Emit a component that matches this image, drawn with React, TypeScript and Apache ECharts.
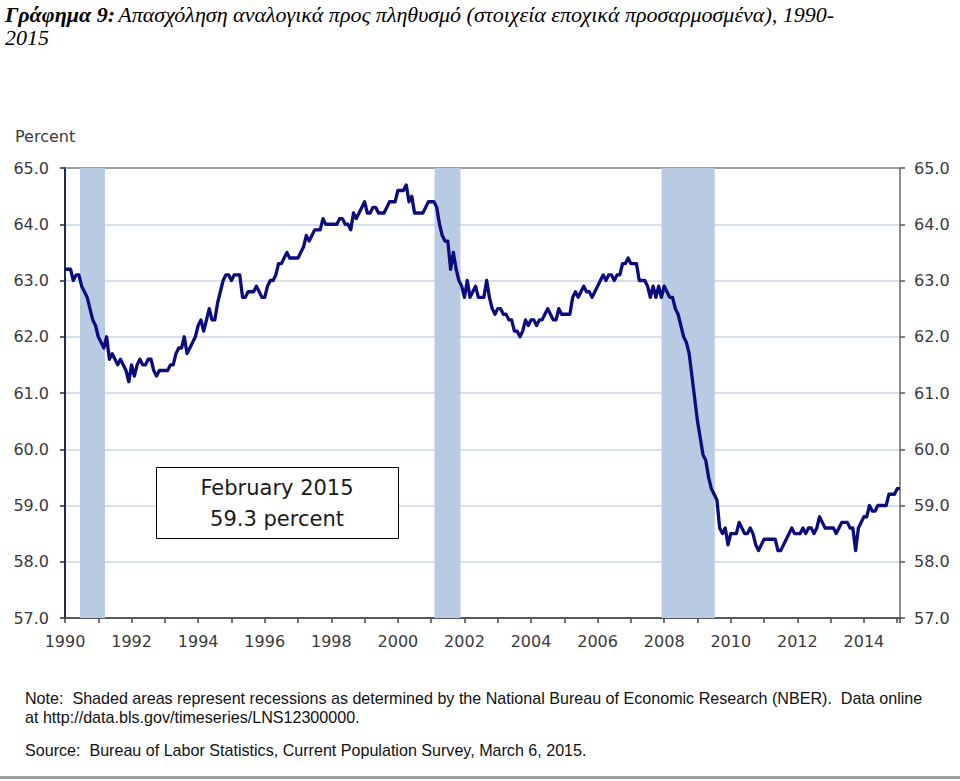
import React, { useEffect, useRef } from "react";
import * as echarts from "echarts";

// Employment-population ratio, seasonally adjusted, monthly (percent)
const epop1990s = [
  63.2, 63.2, 63.2, 63.0, 63.1, 63.1, 62.9, 62.8, 62.7, 62.5, 62.3, 62.2,
  62.0, 61.9, 61.8, 62.0, 61.6, 61.7, 61.6, 61.5, 61.6, 61.5, 61.4, 61.2,
  61.5, 61.3, 61.5, 61.6, 61.5, 61.5, 61.6, 61.6, 61.4, 61.3, 61.4, 61.4,
  61.4, 61.4, 61.5, 61.5, 61.7, 61.8, 61.8, 62.0, 61.7, 61.8, 61.9, 62.0,
  62.2, 62.3, 62.1, 62.3, 62.5, 62.3, 62.3, 62.6, 62.8, 63.0, 63.1, 63.1,
  63.0, 63.1, 63.1, 63.1, 62.7, 62.7, 62.8, 62.8, 62.8, 62.9, 62.8, 62.7,
  62.7, 62.9, 63.0, 63.0, 63.1, 63.3, 63.3, 63.4, 63.5, 63.4, 63.4, 63.4,
  63.4, 63.5, 63.6, 63.8, 63.7, 63.8, 63.9, 63.9, 63.9, 64.1, 64.0, 64.0,
  64.0, 64.0, 64.0, 64.1, 64.1, 64.0, 64.0, 63.9, 64.2, 64.1, 64.2, 64.3,
  64.4, 64.2, 64.2, 64.3, 64.3, 64.2, 64.2, 64.2, 64.3, 64.4, 64.4, 64.4,
];
const epop2000s = [
  64.6, 64.6, 64.6, 64.7, 64.4, 64.5, 64.2, 64.2, 64.2, 64.2, 64.3, 64.4,
  64.4, 64.4, 64.3, 64.0, 63.8, 63.7, 63.7, 63.2, 63.5, 63.2, 63.0, 62.9,
  62.7, 63.0, 62.7, 62.8, 62.9, 62.7, 62.7, 62.7, 63.0, 62.7, 62.5, 62.4,
  62.5, 62.5, 62.4, 62.4, 62.3, 62.3, 62.1, 62.1, 62.0, 62.1, 62.3, 62.2,
  62.3, 62.3, 62.2, 62.3, 62.3, 62.4, 62.5, 62.4, 62.3, 62.3, 62.5, 62.4,
  62.4, 62.4, 62.4, 62.7, 62.8, 62.7, 62.8, 62.9, 62.8, 62.8, 62.7, 62.8,
  62.9, 63.0, 63.1, 63.0, 63.1, 63.1, 63.0, 63.1, 63.1, 63.3, 63.3, 63.4,
  63.3, 63.3, 63.3, 63.0, 63.0, 63.0, 62.9, 62.7, 62.9, 62.7, 62.9, 62.7,
  62.9, 62.8, 62.7, 62.7, 62.5, 62.4, 62.2, 62.0, 61.9, 61.7, 61.3, 60.9,
  60.5, 60.2, 59.9, 59.8, 59.5, 59.3, 59.2, 59.1, 58.6, 58.5, 58.6, 58.3,
];
const epop2010s = [
  58.5, 58.5, 58.5, 58.7, 58.6, 58.5, 58.5, 58.6, 58.5, 58.3, 58.2, 58.3,
  58.4, 58.4, 58.4, 58.4, 58.4, 58.2, 58.2, 58.3, 58.4, 58.5, 58.6, 58.5,
  58.5, 58.5, 58.6, 58.5, 58.6, 58.6, 58.5, 58.6, 58.8, 58.7, 58.6, 58.6,
  58.6, 58.6, 58.5, 58.6, 58.7, 58.7, 58.7, 58.6, 58.6, 58.2, 58.6, 58.7,
  58.8, 58.8, 59.0, 58.9, 58.9, 59.0, 59.0, 59.0, 59.0, 59.2, 59.2, 59.2,
  59.3, 59.3,
];
const startYear = 1990;

// NBER recession shading, as fractional years
const recessionStarts = [1990.45, 2001.1, 2007.92];
const recessionEnds = [1991.2, 2001.88, 2009.52];

const yTicks = { min: 57, max: 65, step: 1 };
const titleBold = "Γράφημα 9:";
const titleRest1 = "Απασχόληση αναλογικά προς πληθυσμό (στοιχεία εποχικά προσαρμοσμένα), 1990-";
const titleRest2 = "2015";
const yAxisName = "Percent";
const calloutLines = ["February 2015", "59.3 percent"];
const noteLine1 =
  "Note:  Shaded areas represent recessions as determined by the National Bureau of Economic Research (NBER).  Data online";
const noteLine2 = "at http://data.bls.gov/timeseries/LNS12300000.";
const sourceLine = "Source:  Bureau of Labor Statistics, Current Population Survey, March 6, 2015.";

export default function App() {
  const ref = useRef<HTMLDivElement>(null);
  useEffect(() => {
    if (!ref.current) return;
    const chart = echarts.init(ref.current, null, { renderer: "svg" });
    const all = [...epop1990s, ...epop2000s, ...epop2010s];
    const data = all.map((v, i) => [startYear + i / 12, v]);
    const xMax = startYear + (all.length - 1) / 12;
    const font = "DejaVu Sans";
    const labelColor = "#3a3a3a";
    const titleStyle = {
      fontFamily: "Liberation Serif",
      fontStyle: "italic",
      fontSize: 22,
      lineHeight: 22,
      fill: "#000",
    };
    chart.setOption({
      animation: false,
      backgroundColor: "#ffffff",
      grid: { left: 65, right: 60, top: 168, bottom: 163 },
      xAxis: [
        {
          type: "value",
          min: startYear,
          max: xMax,
          interval: 1,
          axisLine: { show: true, lineStyle: { color: "#5a5a5a", width: 2 } },
          axisTick: { show: true, inside: false, length: 5, lineStyle: { color: "#444", width: 1.5 } },
          axisLabel: {
            margin: 15,
            fontFamily: font,
            fontSize: 16,
            color: labelColor,
            formatter: (v: number) =>
              Math.abs(v - Math.round(v)) < 1e-6 && Math.round(v) % 2 === 0 ? String(Math.round(v)) : "",
          },
          splitLine: { show: false },
        },
        {
          type: "value",
          position: "top",
          min: startYear,
          max: xMax,
          axisLine: { show: true, lineStyle: { color: "#8a8a8a", width: 1.5 } },
          axisTick: { show: false },
          axisLabel: { show: false },
          splitLine: { show: false },
        },
      ],
      yAxis: [
        {
          type: "value",
          min: yTicks.min,
          max: yTicks.max,
          interval: yTicks.step,
          name: yAxisName,
          nameLocation: "end",
          nameGap: 24,
          nameTextStyle: { fontFamily: font, fontSize: 16, color: labelColor, align: "left", padding: [0, 0, 0, -50] },
          axisLine: { show: true, lineStyle: { color: "#1f2b4a", width: 2 } },
          axisTick: { show: true, inside: false, length: 5, lineStyle: { color: "#1f2b4a", width: 1.5 } },
          axisLabel: {
            margin: 16,
            fontFamily: font,
            fontSize: 16,
            color: labelColor,
            formatter: (v: number) => v.toFixed(1),
          },
          splitLine: { show: true, lineStyle: { color: "#c9d5e5", width: 1.5 } },
        },
        {
          type: "value",
          position: "right",
          min: yTicks.min,
          max: yTicks.max,
          interval: yTicks.step,
          axisLine: { show: true, lineStyle: { color: "#6a6a6a", width: 1.5 } },
          axisTick: { show: true, inside: false, length: 5, lineStyle: { color: "#555", width: 1.5 } },
          axisLabel: {
            margin: 14,
            fontFamily: font,
            fontSize: 16,
            color: labelColor,
            formatter: (v: number) => v.toFixed(1),
          },
          splitLine: { show: false },
        },
      ],
      series: [
        {
          type: "line",
          xAxisIndex: 0,
          yAxisIndex: 0,
          data,
          showSymbol: false,
          symbol: "none",
          lineStyle: { color: "#0c0c7e", width: 3.3, join: "round" },
          z: 5,
          markArea: {
            silent: true,
            itemStyle: { color: "#b8cbe3", opacity: 1 },
            data: recessionStarts.map((s, i) => [{ xAxis: s }, { xAxis: recessionEnds[i] }]),
          },
        },
      ],
      graphic: [
        {
          type: "text",
          left: 5,
          top: 3,
          style: {
            text: `{b|${titleBold}} {n|${titleRest1}}`,
            rich: {
              b: { ...titleStyle, fontWeight: "bold" },
              n: { ...titleStyle },
            },
          },
        },
        {
          type: "text",
          left: 5,
          top: 26,
          style: { text: titleRest2, ...titleStyle, lineHeight: 20 },
        },
        {
          type: "rect",
          left: 156,
          top: 467,
          shape: { width: 242, height: 71 },
          style: { fill: "#ffffff", stroke: "#000", lineWidth: 1 },
          z: 10,
        },
        {
          type: "text",
          x: 277,
          y: 488,
          style: {
            text: calloutLines[0],
            fontFamily: font,
            fontSize: 21,
            fill: "#1a1a1a",
            align: "center",
            verticalAlign: "middle",
          },
          z: 11,
        },
        {
          type: "text",
          x: 277,
          y: 519,
          style: {
            text: calloutLines[1],
            fontFamily: font,
            fontSize: 21,
            fill: "#1a1a1a",
            align: "center",
            verticalAlign: "middle",
          },
          z: 11,
        },
        {
          type: "text",
          x: 25,
          y: 698,
          style: { text: noteLine1, fontFamily: "Liberation Sans", fontSize: 16.1, fill: "#111", verticalAlign: "middle" },
        },
        {
          type: "text",
          x: 25,
          y: 717,
          style: { text: noteLine2, fontFamily: "Liberation Sans", fontSize: 16.1, fill: "#111", verticalAlign: "middle" },
        },
        {
          type: "text",
          x: 25,
          y: 750,
          style: { text: sourceLine, fontFamily: "Liberation Sans", fontSize: 16.1, fill: "#111", verticalAlign: "middle" },
        },
        {
          type: "rect",
          left: 0,
          top: 776,
          shape: { width: 960, height: 3 },
          style: { fill: "#a0a0a0" },
        },
      ],
    });
    return () => chart.dispose();
  }, []);
  return (
    <div
      ref={ref}
      style={{ position: "fixed", left: 0, top: 0, width: 960, height: 781, background: "#fff" }}
    />
  );
}
